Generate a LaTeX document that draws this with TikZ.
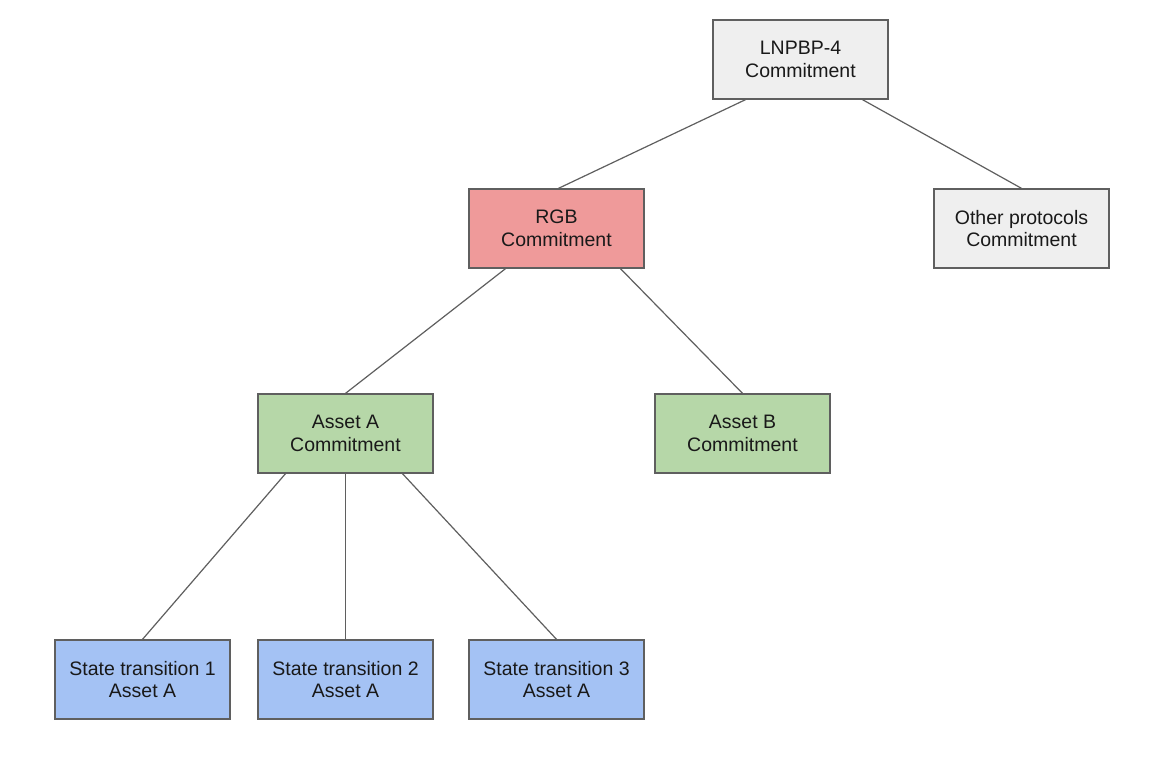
\documentclass[tikz,border=0pt]{standalone}
\usepackage{fontspec}
\setmainfont{Liberation Sans}
\definecolor{boxgrey}{HTML}{EFEFEF}
\definecolor{boxred}{HTML}{EF9A9A}
\definecolor{boxgreen}{HTML}{B6D7A8}
\definecolor{boxblue}{HTML}{A4C2F4}
\definecolor{edgecol}{HTML}{5F5F5F}
\begin{document}
\begin{tikzpicture}[x=1pt,y=-1pt,
  box/.style={draw=edgecol,line width=1.3pt,minimum width=175pt,minimum height=79pt,inner sep=0pt,align=center,
    font=\fontsize{19.5}{22.5}\selectfont,text=black!90},
  link/.style={draw=edgecol,line width=1.2pt}]
\useasboundingbox[fill=white] (0,0) rectangle (1152,756);
\node[box,fill=boxgrey] (l4) at (800.5,59.5) {LNPBP-4\\Commitment};
\node[box,fill=boxred] (rgb) at (556.5,228.5) {RGB\\Commitment};
\node[box,fill=boxgrey] (oth) at (1021.5,228.5) {Other protocols\\Commitment};
\node[box,fill=boxgreen] (aa) at (345.5,433.5) {Asset A\\Commitment};
\node[box,fill=boxgreen] (ab) at (742.5,433.5) {Asset B\\Commitment};
\node[box,fill=boxblue] (s1) at (142.5,679.5) {State transition 1\\Asset A};
\node[box,fill=boxblue] (s2) at (345.5,679.5) {State transition 2\\Asset A};
\node[box,fill=boxblue] (s3) at (556.5,679.5) {State transition 3\\Asset A};
\draw[link] ([xshift=-55pt]l4.south) -- ([xshift=2pt]rgb.north);
\draw[link] ([xshift=62pt]l4.south) -- (oth.north);
\draw[link] ([xshift=-51pt]rgb.south) -- (aa.north);
\draw[link] ([xshift=64pt]rgb.south) -- (ab.north);
\draw[link] ([xshift=-60pt]aa.south) -- (s1.north);
\draw[link] (aa.south) -- (s2.north);
\draw[link] ([xshift=57pt]aa.south) -- (s3.north);
\end{tikzpicture}
\end{document}
